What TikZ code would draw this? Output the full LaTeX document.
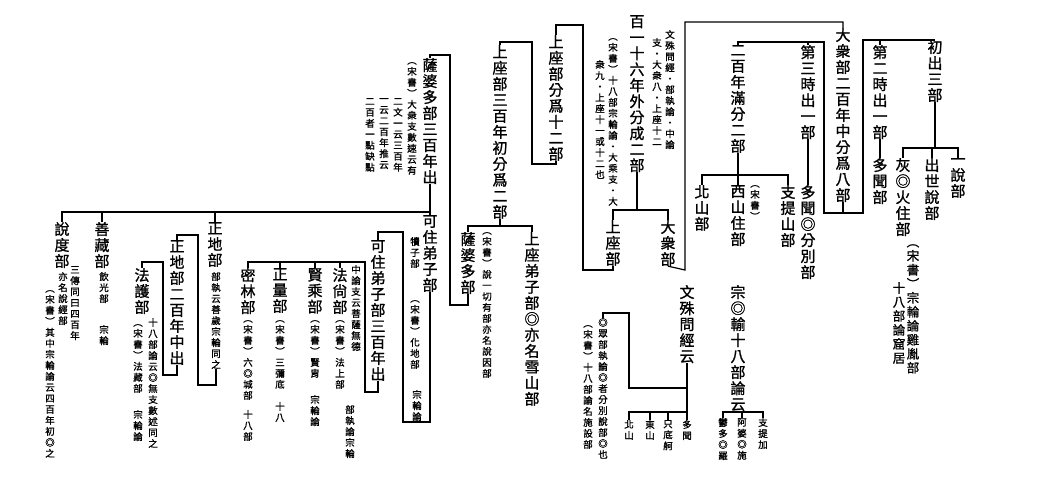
\documentclass[tikz,border=0pt]{standalone}
\usepackage{fontspec}
\newfontfamily\cjk{Noto Sans CJK TC}[AutoFakeBold=1.2]
\XeTeXlinebreaklocale "zh"
\def\vtend{\vtend}
\def\vt#1{\vtA#1\vtend}
\def\vtA#1{\ifx#1\vtend\else #1\par\expandafter\vtA\fi}
\tikzset{
 vbase/.style={inner sep=0pt,text width=2em,align=center,anchor=north},
 big/.style={vbase,font=\cjk\bfseries\fontsize{15}{16}\selectfont},
 mid/.style={vbase,font=\cjk\bfseries\fontsize{12.5}{14}\selectfont},
 sm/.style={vbase,font=\cjk\bfseries\fontsize{9.5}{11}\selectfont},
 ln/.style={line width=1.2pt}
}
\newcommand\V[4][big]{\node[#1] (#2) at (#3) {\vt{#4}};}
\begin{document}
\begin{tikzpicture}[x=1pt,y=-1pt]
\useasboundingbox (0,0) rectangle (1053,500);
% right
\V{n1}{935,40}{初出三部}
\V{n2}{880,45}{第二時出一部}
\V{n3}{880,158}{多聞部}
\V{n4}{903,158}{灰◎火住部}
\V{n5}{932,158}{出世說部}
\V{n6}{958,158}{一說部}
\V[mid]{a1}{913,244}{︵宋書︶宗輪論雞胤部}
\V[mid]{a2}{899,282}{十八部論窟居}
\V{n7}{843,28}{大衆部二百年中分爲八部}
\V{n8}{738,45}{二百年滿分二部}
\V{n9}{808,45}{第三時出一部}
\V{n10}{702,185}{北山部}
\V{n11}{738,185}{西山住部}
\V[sm]{a3}{755,185}{︵宋書︶}
\V{n12}{788,185}{支提山部}
\V{n13}{808,185}{多聞◎分別部}
\V{n14}{637,15}{百一十六年外分成二部}
\V[sm]{a4}{670,30}{文殊問經・部執論・中論}
\V[sm]{a5}{657,38}{支・大衆八・上座十二}
\V[sm]{a6}{613,38}{︵宋書︶十八部宗輪論・大乘支・大}
\V[sm]{a7}{600,60}{衆九・上座十一或十二也}
\V{n15}{613,220}{上座部}
\V{n16}{668,220}{大衆部}
\V{n17}{556,35}{上座部分爲十二部}
\V{n18}{500,45}{上座部三百年初分爲二部}
\V{n19}{468,232}{薩婆多部}
\V{n20}{532,232}{上座弟子部◎亦名雪山部}
\V[sm]{a8}{487,232}{︵宋書︶說一切有部亦名說因部}
\V{n21}{430,58}{薩婆多部三百年出}
\V[sm]{a9}{412,62}{︵宋書︶大衆支數速云有}
\V[sm]{a10}{398,98}{二文一云三百年}
\V[sm]{a11}{384,98}{一云二百年推云}
\V[sm]{a12}{370,98}{二百者一點缺點}
\V{n22}{430,215}{可住弟子部}
\V[sm]{a13}{415,237}{犢子部}
\V[sm]{a14}{415,300}{︵宋書︶化地部}
\V[sm]{a15}{417,390}{宗輪論}
\V{n23}{378,240}{可住弟子部三百年出}
\V{n24}{340,268}{法尙部}
\V[sm]{a16}{356,265}{中論支云菩薩無德}
\V[sm]{a17}{340,320}{︵宋書︶法上部}
\V[sm]{a18}{350,405}{部執論宗輪}
\V{n25}{315,268}{賢乘部}
\V[sm]{a19}{315,320}{︵宋書︶賢胄}
\V[sm]{a20}{315,395}{宗輪論}
\V{n26}{280,268}{正量部}
\V[sm]{a21}{280,320}{︵宋書︶三彌底}
\V[sm]{a22}{280,402}{十八}
\V{n27}{248,268}{密林部}
\V[sm]{a23}{248,320}{︵宋書︶六◎城部}
\V[sm]{a24}{248,410}{十八部}
\V{n28}{62,222}{說度部}
\V[sm]{a25}{63,272}{亦名說經部}
\V[sm]{a26}{75,266}{三傳同曰四百年}
\V[sm]{a27}{50,290}{︵宋書︶其中宗輪論云四百年初◎之}
\V{n29}{102,222}{善藏部}
\V[sm]{a28}{104,272}{飲光部}
\V[sm]{a29}{104,325}{宗輪}
\V{n30}{215,222}{正地部}
\V[sm]{a30}{216,272}{部執云善歲宗輪同之}
\V{n31}{177,240}{正地部二百年中出}
\V{n32}{142,268}{法護部}
\V[sm]{a31}{153,318}{十八部論云◎無支數述同之}
\V[sm]{a32}{138,324}{︵宋書︶法藏部}
\V[sm]{a33}{138,410}{宗輪論}
\V{n33}{687,285}{文殊問經云}
\V[sm]{b1}{629,420}{北山}
\V[sm]{b2}{650,420}{東山}
\V[sm]{b3}{668,420}{只底舸}
\V[sm]{b4}{687,420}{多聞}
\V[sm]{a34}{603,318}{◎眾部執論◎者分別說部◎也}
\V[sm]{a35}{588,325}{︵宋書︶十八部論名施設部}
\V{n35}{738,285}{宗◎輸十八部論云}
\V[sm]{c1}{723,418}{鬱多◎羅}
\V[sm]{c2}{742,418}{阿婆◎施}
\V[sm]{c3}{763,418}{支提加}
% connectors
\begin{scope}[ln]
\draw (n16.south) -- (685,270) -- (685,22) -| (n7.north);
\draw (n7.south) -- (843,213) -- (824,213) -- (824,42) -| (n8.north);
\draw (n9.north) -- (808,42);
\draw (843,213) -- (863,213) -- (863,40) -| (n1.north);
\draw (n2.north) -- (880,40);
\draw (n1.south) -- (935,148);
\draw (n4.north) |- (958,148) -- (n6.north);
\draw (n5.north) -- (932,148);
\draw (n2.south) -- (n3.north);
\draw (n8.south) -- (738,175);
\draw (n10.north) |- (788,175) -- (n12.north);
\draw (n11.north) -- (738,175);
\draw (n9.south) -- (n13.north);
\draw (n14.south) -- (637,210);
\draw (n15.north) |- (668,210) -- (n16.north);
\draw (n15.south) -- (613,270) -- (583,270) -- (583,25) -| (n17.north);
\draw (n17.south) -- (556,164) -- (532,164) -- (532,42) -| (n18.north);
\draw (n18.south) -- (500,226);
\draw (n19.north) |- (532,226) -- (n20.north);
\draw (n19.south) -- (468,305) -- (450,305) -- (450,55) -| (n21.north);
\draw (n21.south) -- (430,212);
\draw (n28.north) |- (430,212) -- (n22.north);
\draw (n29.north) -- (102,212);
\draw (n30.north) -- (215,212);
\draw (n22.south) -- (430,422) -- (403,422) -- (403,232) -| (n23.north);
\draw (n23.south) -- (378,392) -- (365,392) -- (365,262) -| (n27.north);
\draw (n24.north) -- (340,262);
\draw (n25.north) -- (315,262);
\draw (n26.north) -- (280,262);
\draw (a30.south) -- (216,385) -- (198,385) -- (198,235) -| (n31.north);
\draw (n31.south) -- (177,375) -- (163,375) -- (163,262) -| (n32.north);
\draw (n33.south) -- (687,412);
\draw (b1.north) |- (687,412) -- (b4.north);
\draw (b2.north) -- (650,412);
\draw (b3.north) -- (668,412);
\draw (687,388) -- (629,388) -- (629,313) -| (a34.north);
\draw (n35.south) -- (742,412);
\draw (c1.north) |- (763,412) -- (c3.north);
\draw (c2.north) -- (742,412);
\end{scope}
\end{tikzpicture}
\end{document}
